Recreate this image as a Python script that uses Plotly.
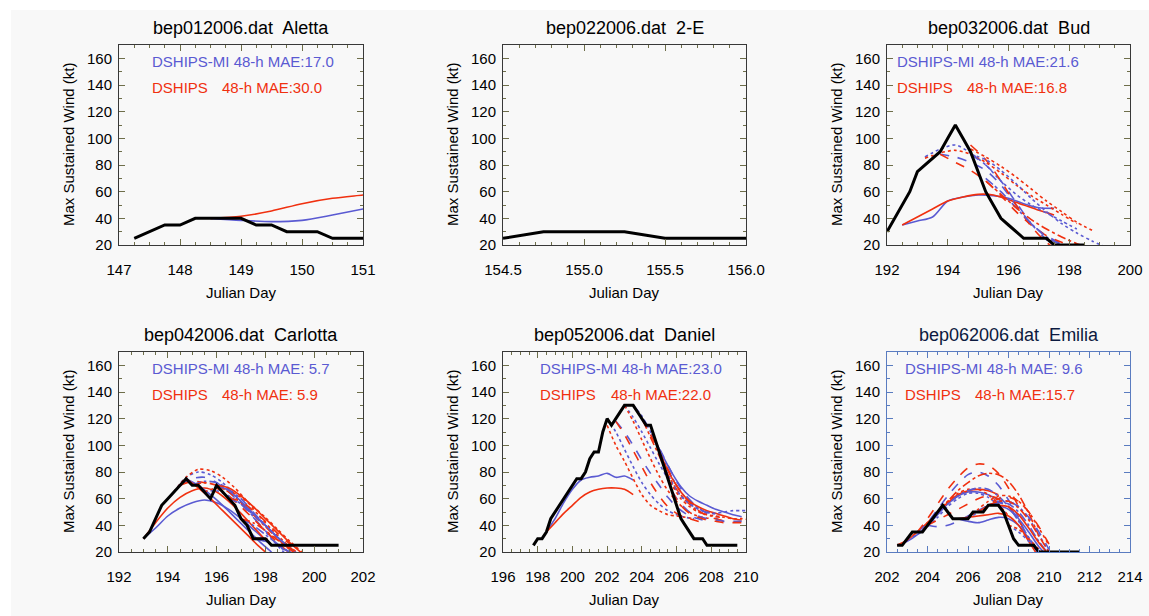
import plotly.graph_objects as go

# ======================= DATA =======================
STORM_FILES = ["bep012006.dat", "bep022006.dat", "bep032006.dat",
               "bep042006.dat", "bep052006.dat", "bep062006.dat"]
STORM_NAMES = ["Aletta", "2-E", "Bud", "Carlotta", "Daniel", "Emilia"]
MAE_MI = ["17.0", None, "21.6", " 5.7", "23.0", " 9.6"]
MAE_SHIPS = ["30.0", None, "16.8", " 5.9", "22.0", "15.7"]

X_RANGES = [[147, 151], [154.5, 156], [192, 200], [192, 202], [196, 210], [202, 214]]
X_DTICK = [1, 0.5, 2, 2, 2, 2]
X_MINOR = [0.25, 0.1, 0.5, 0.5, 0.5, 0.5]
Y_RANGE = [20, 170]
Y_DTICK = 20

BT_STEP = 0.25   # best track every 6 h
FC_STEP = 0.5    # forecast points every 12 h

# --- best tracks (start day, winds in kt) ---
ALETTA_BT_START = 147.25
ALETTA_BT = [25, 30, 35, 35, 40, 40, 40, 40, 35, 35, 30, 30, 30, 25, 25, 25]
TWOE_BT_START = 154.5
TWOE_BT = [25, 30, 30, 30, 25, 25, 25]
BUD_BT_START = 192.0
BUD_BT = [30, 40, 50, 60, 75, 80, 85, 90, 100, 110, 100, 90, 75, 60, 50, 40, 35, 30,
          25, 25, 25, 25, 20, 20, 20, 20, 20]
CARLOTTA_BT_START = 193.0
CARLOTTA_BT = [30, 35, 45, 55, 60, 65, 70, 75, 70, 70, 65, 60, 70, 65, 60, 55, 45, 40,
               30, 30, 30, 25, 25, 25, 25, 25, 25, 25, 25, 25, 25, 25, 25]
DANIEL_BT_START = 197.75
DANIEL_BT = [25, 30, 30, 35, 45, 50, 55, 60, 65, 70, 75, 75, 80, 90, 95, 95, 110, 120,
             115, 120, 125, 130, 130, 130, 125, 120, 115, 115, 105, 95, 85, 75, 65, 55,
             45, 40, 35, 30, 30, 30, 25, 25, 25, 25, 25, 25, 25, 25]
EMILIA_BT_START = 202.5
EMILIA_BT = [25, 25, 30, 35, 35, 35, 40, 45, 50, 55, 50, 45, 45, 45, 45, 50, 50, 50,
             55, 55, 55, 50, 40, 30, 25, 25, 25, 25, 20, 20, 20, 20, 20, 20, 20, 20, 20]

# --- forecasts: start days, DSHIPS-MI (blue) and DSHIPS (red) winds ---
ALETTA_FC_T0 = [148.5]
ALETTA_FC_MI = [[40, 38.5, 37.5, 38.5, 42.5, 47, 52]]
ALETTA_FC_SHIPS = [[40, 41.5, 45.5, 51, 55, 57.5, 60]]

TWOE_FC_T0 = []
TWOE_FC_MI = []
TWOE_FC_SHIPS = []

BUD_FC_T0 = [192.5, 193.25, 193.75, 194.75, 194.75, 195.25]
BUD_FC_MI = [
    [35, 38, 41, 53, 56, 57.5, 57, 55, 51, 48, 47.5],
    [86, 92, 95, 89, 80, 68, 58, 50, 44, 38, 32],
    [88, 86, 82, 76, 65, 50, 36, 27, 21, 18],
    [88, 80, 68, 52, 36, 24, 16],
    [88, 84, 76, 66, 55, 45, 36, 29, 23, 18],
    [70, 60, 48, 36, 26, 20, 16],
]
BUD_FC_SHIPS = [
    [35, 41, 47, 53, 56, 58, 57.5, 54, 50, 46, 42.5],
    [85, 89, 91, 88, 82, 74, 65, 57, 50, 43, 36],
    [88, 82, 76, 68, 57, 45, 35, 27, 22, 18],
    [95, 84, 68, 50, 34, 22, 14],
    [92, 86, 79, 71, 62, 53, 45, 37, 31],
    [68, 58, 48, 39, 32, 26, 21, 17],
]

CARLOTTA_FC_T0 = [193.0, 194.25, 194.5, 195.0, 194.75, 195.5, 196.0, 196.5, 197.0, 197.5]
CARLOTTA_FC_MI = [
    [30, 38, 47, 53, 57, 59, 57, 52, 45, 37, 29],
    [65, 76, 80, 78, 72, 63, 52, 41, 30, 20, 12],
    [70, 75, 76, 72, 65, 56, 46, 36, 26, 18],
    [70, 73, 72, 67, 60, 50, 40, 31, 23, 16],
    [75, 70, 63, 55, 46, 37, 28, 20],
    [65, 66, 62, 56, 48, 40, 31, 23, 16],
    [70, 66, 58, 49, 40, 31, 23, 16],
    [60, 56, 48, 40, 31, 23, 16],
    [45, 40, 33, 26, 20, 15],
    [30, 28, 24, 20, 16],
]
CARLOTTA_FC_SHIPS = [
    [30, 42, 53, 61, 66, 68, 65, 58, 49, 39, 29],
    [65, 76, 82, 81, 76, 68, 58, 47, 37, 28, 20],
    [70, 73, 72, 68, 62, 54, 45, 36, 27, 19],
    [70, 72, 70, 65, 57, 48, 39, 30, 22, 15],
    [75, 68, 60, 51, 42, 33, 24, 16],
    [65, 68, 66, 61, 54, 46, 37, 28, 20],
    [70, 68, 62, 54, 45, 36, 27, 19],
    [60, 58, 51, 43, 34, 26, 18],
    [45, 42, 36, 29, 22, 16],
    [30, 30, 27, 23, 18],
]

DANIEL_FC_T0 = [198.5, 202.0, 202.5, 203.0, 203.5, 204.0, 204.75, 205.25, 205.75]
DANIEL_FC_MI = [
    [35, 45, 57, 67, 74, 76, 77, 79, 76, 77, 74],
    [120, 110, 97, 84, 72, 63, 56, 51, 48, 46, 45],
    [118, 110, 100, 89, 79, 70, 61, 54, 49, 46, 44],
    [130, 121, 110, 98, 86, 75, 66, 59, 54, 51, 49],
    [130, 122, 110, 96, 82, 70, 61, 55, 51, 49, 48],
    [120, 110, 98, 85, 73, 63, 56, 51, 47, 44, 42],
    [104, 91, 79, 69, 62, 58, 55, 52, 50, 48, 46.5],
    [85, 72, 62, 56, 52, 50, 49, 50, 51, 51, 51],
    [65, 56, 50, 47, 45, 44, 43, 43, 43],
]
DANIEL_FC_SHIPS = [
    [35, 42, 49, 55, 61, 65, 67, 68, 68, 67, 63],
    [115, 100, 88, 75, 63, 55, 51, 48, 47, 46, 45],
    [118, 108, 96, 84, 72, 62, 54, 49, 46, 44, 42],
    [130, 118, 104, 90, 77, 66, 58, 52, 48, 46, 45],
    [130, 120, 106, 92, 78, 67, 59, 53, 49, 47, 46],
    [120, 108, 95, 82, 70, 61, 54, 49, 46, 44, 43],
    [104, 88, 75, 65, 58, 54, 51, 49, 47, 45, 44],
    [85, 70, 60, 54, 50, 48, 47, 46, 45, 45, 44],
    [65, 55, 49, 46, 44, 43, 42, 42, 42],
]

EMILIA_FC_T0 = [202.5, 203.0, 203.5, 204.0, 204.5, 205.5, 206.0, 206.5, 207.0, 207.5, 208.0]
EMILIA_FC_MI = [
    [25, 28, 33, 40, 48, 56, 62, 65, 65, 63, 59],
    [30, 33, 39, 46, 54, 60, 64, 64, 61, 55, 47],
    [35, 42, 52, 62, 71, 78, 80, 77, 70, 59, 46],
    [40, 39, 40, 43, 47, 51, 55, 57, 54, 44, 30],
    [50, 56, 62, 66, 68, 67, 62, 54, 43, 31, 20],
    [45, 43, 42, 44, 46, 45, 40, 30, 18],
    [45, 50, 55, 58, 58, 54, 45, 33, 20],
    [50, 54, 58, 58, 54, 46, 35, 22],
    [55, 57, 56, 50, 40, 28, 18],
    [55, 52, 45, 35, 24, 16],
    [40, 35, 28, 20, 15],
]
EMILIA_FC_SHIPS = [
    [25, 29, 35, 42, 50, 57, 63, 66, 67, 66, 63],
    [30, 35, 42, 50, 58, 64, 67, 67, 63, 56, 47],
    [35, 45, 56, 67, 76, 83, 86, 85, 79, 68, 54],
    [40, 44, 48, 52, 56, 60, 62, 60, 54, 44, 30],
    [50, 58, 66, 72, 77, 79, 78, 73, 63, 49, 32],
    [45, 46, 47, 48, 49, 47, 40, 28, 16],
    [45, 52, 58, 62, 62, 58, 50, 38, 25],
    [50, 55, 60, 61, 58, 50, 39, 26],
    [55, 58, 58, 53, 44, 32, 20],
    [55, 54, 48, 38, 27, 18],
    [40, 37, 30, 22, 16],
]

# ======================= STYLE / LAYOUT =======================
W, H = 1149, 616
FONT = "Liberation Sans, Arial, Helvetica, sans-serif"
BLUE = "#5a5ad2"
RED = "#f0300f"
BG = "#f8f8f8"

FC_DASH = [
    ["solid"],
    [],
    ["solid", "dot", "dash", "dash", "dot", "dashdot"],
    ["solid", "dot", "dash", "dashdot", "solid", "dot", "solid", "dash", "dashdot", "longdash"],
    ["solid", "dot", "dash", "dot", "dashdot", "dash", "solid", "dot", "dash"],
    ["solid", "dot", "dash", "dash", "dashdot", "solid", "dot", "dash", "dashdot", "solid", "dot"],
]

PLOT_L = [119, 503, 887, 119, 503, 887]
PLOT_R = [363, 746, 1130, 363, 746, 1130]
PLOT_T = [45, 45, 45, 352, 352, 352]
PLOT_B = [245, 245, 245, 552, 552, 552]
ANN_MI_DX = [31, 0, 8, 31, 35, 16]
ANN_48_DX = [101, 0, 78, 101, 106, 86]
FRAME = ["#383838"] * 5 + ["#5a7cc0"]
TICKC = ["#6e6e4a"] * 5 + ["#5a7cc0"]
TITLEC = ["#000000"] * 5 + ["#0c1a40"]

BT_ALL = [(ALETTA_BT_START, ALETTA_BT), (TWOE_BT_START, TWOE_BT), (BUD_BT_START, BUD_BT),
          (CARLOTTA_BT_START, CARLOTTA_BT), (DANIEL_BT_START, DANIEL_BT),
          (EMILIA_BT_START, EMILIA_BT)]
FC_ALL = [(ALETTA_FC_T0, ALETTA_FC_MI, ALETTA_FC_SHIPS),
          (TWOE_FC_T0, TWOE_FC_MI, TWOE_FC_SHIPS),
          (BUD_FC_T0, BUD_FC_MI, BUD_FC_SHIPS),
          (CARLOTTA_FC_T0, CARLOTTA_FC_MI, CARLOTTA_FC_SHIPS),
          (DANIEL_FC_T0, DANIEL_FC_MI, DANIEL_FC_SHIPS),
          (EMILIA_FC_T0, EMILIA_FC_MI, EMILIA_FC_SHIPS)]


def px(x):
    return x / W


def py(y):
    return 1 - y / H


fig = go.Figure()
annotations = []
layout = {}

for k in range(6):
    sfx = "" if k == 0 else str(k + 1)
    xa, ya = "x" + sfx, "y" + sfx

    # forecasts
    t0s, mis, ships = FC_ALL[k]
    for j, t0 in enumerate(t0s):
        dash = FC_DASH[k][j]
        for vals, col in ((mis[j], BLUE), (ships[j], RED)):
            xs = [t0 + FC_STEP * i for i in range(len(vals))]
            fig.add_trace(go.Scatter(x=xs, y=vals, mode="lines", xaxis=xa, yaxis=ya,
                                     line=dict(color=col, width=1.6, dash=dash,
                                               shape="spline", smoothing=0.8),
                                     hoverinfo="skip", showlegend=False))
    # best track
    start, winds = BT_ALL[k]
    xs = [start + BT_STEP * i for i in range(len(winds))]
    fig.add_trace(go.Scatter(x=xs, y=winds, mode="lines", xaxis=xa, yaxis=ya,
                             line=dict(color="black", width=3),
                             hoverinfo="skip", showlegend=False))

    L, R, T, B = PLOT_L[k], PLOT_R[k], PLOT_T[k], PLOT_B[k]
    layout["xaxis" + sfx] = dict(
        domain=[px(L), px(R)], range=X_RANGES[k], anchor=ya,
        tick0=X_RANGES[k][0], dtick=X_DTICK[k],
        tickformat=".1f" if k == 1 else "d",
        ticks="inside", ticklen=6, tickcolor=TICKC[k], tickwidth=1,
        showline=True, linecolor=FRAME[k], linewidth=1, mirror="allticks",
        showgrid=False, zeroline=False, ticklabelstandoff=11, automargin=False,
        tickfont=dict(family=FONT, size=15, color="black"),
        minor=dict(dtick=X_MINOR[k], tick0=X_RANGES[k][0], ticks="inside", ticklen=3,
                   tickcolor=TICKC[k], showgrid=False),
    )
    layout["yaxis" + sfx] = dict(
        domain=[py(B), py(T)], range=Y_RANGE, anchor=xa,
        tick0=0, dtick=Y_DTICK,
        ticks="inside", ticklen=6, tickcolor=TICKC[k], tickwidth=1,
        showline=True, linecolor=FRAME[k], linewidth=1, mirror="allticks",
        showgrid=False, zeroline=False, ticklabelstandoff=3, automargin=False,
        tickfont=dict(family=FONT, size=15, color="black"),
        minor=dict(dtick=10, ticks="inside", ticklen=3, tickcolor=TICKC[k], showgrid=False),
    )

    cx = (L + R) / 2
    annotations.append(dict(text=STORM_FILES[k] + "  " + STORM_NAMES[k], x=px(cx), y=py(T - 17),
                            xref="paper", yref="paper", xanchor="center", yanchor="middle",
                            showarrow=False, font=dict(family=FONT, size=18, color=TITLEC[k])))
    annotations.append(dict(text="Julian Day", x=px(cx), y=py(B + 47),
                            xref="paper", yref="paper", xanchor="center", yanchor="middle",
                            showarrow=False, font=dict(family=FONT, size=15, color="black")))
    annotations.append(dict(text="Max Sustained Wind (kt)", x=px(L - 51), y=py((T + B) / 2),
                            xref="paper", yref="paper", xanchor="center", yanchor="middle",
                            textangle=-90, showarrow=False,
                            font=dict(family=FONT, size=15, color="black")))
    if MAE_MI[k] is not None:
        annotations.append(dict(text="DSHIPS-MI 48-h MAE:" + MAE_MI[k], x=px(L + ANN_MI_DX[k]),
                                y=py(T + 16.5), xref="paper", yref="paper",
                                xanchor="left", yanchor="middle", showarrow=False,
                                font=dict(family=FONT, size=15, color=BLUE)))
        annotations.append(dict(text="DSHIPS", x=px(L + ANN_MI_DX[k]),
                                y=py(T + 42.5), xref="paper", yref="paper",
                                xanchor="left", yanchor="middle", showarrow=False,
                                font=dict(family=FONT, size=15, color=RED)))
        annotations.append(dict(text="48-h MAE:" + MAE_SHIPS[k], x=px(L + ANN_48_DX[k]),
                                y=py(T + 42.5), xref="paper", yref="paper",
                                xanchor="left", yanchor="middle", showarrow=False,
                                font=dict(family=FONT, size=15, color=RED)))

fig.update_layout(
    width=W, height=H, autosize=False,
    margin=dict(l=0, r=0, t=0, b=0, pad=0, autoexpand=False),
    paper_bgcolor="white",
    plot_bgcolor=BG,
    showlegend=False,
    annotations=annotations,
    shapes=[dict(type="rect", xref="paper", yref="paper", x0=px(11), x1=1, y0=0, y1=py(10),
                 fillcolor=BG, line=dict(width=0), layer="below")],
    **layout,
)

fig.write_html("out.html", config={"responsive": False},
               post_script="document.body.style.margin='0';document.body.style.overflow='hidden';")
